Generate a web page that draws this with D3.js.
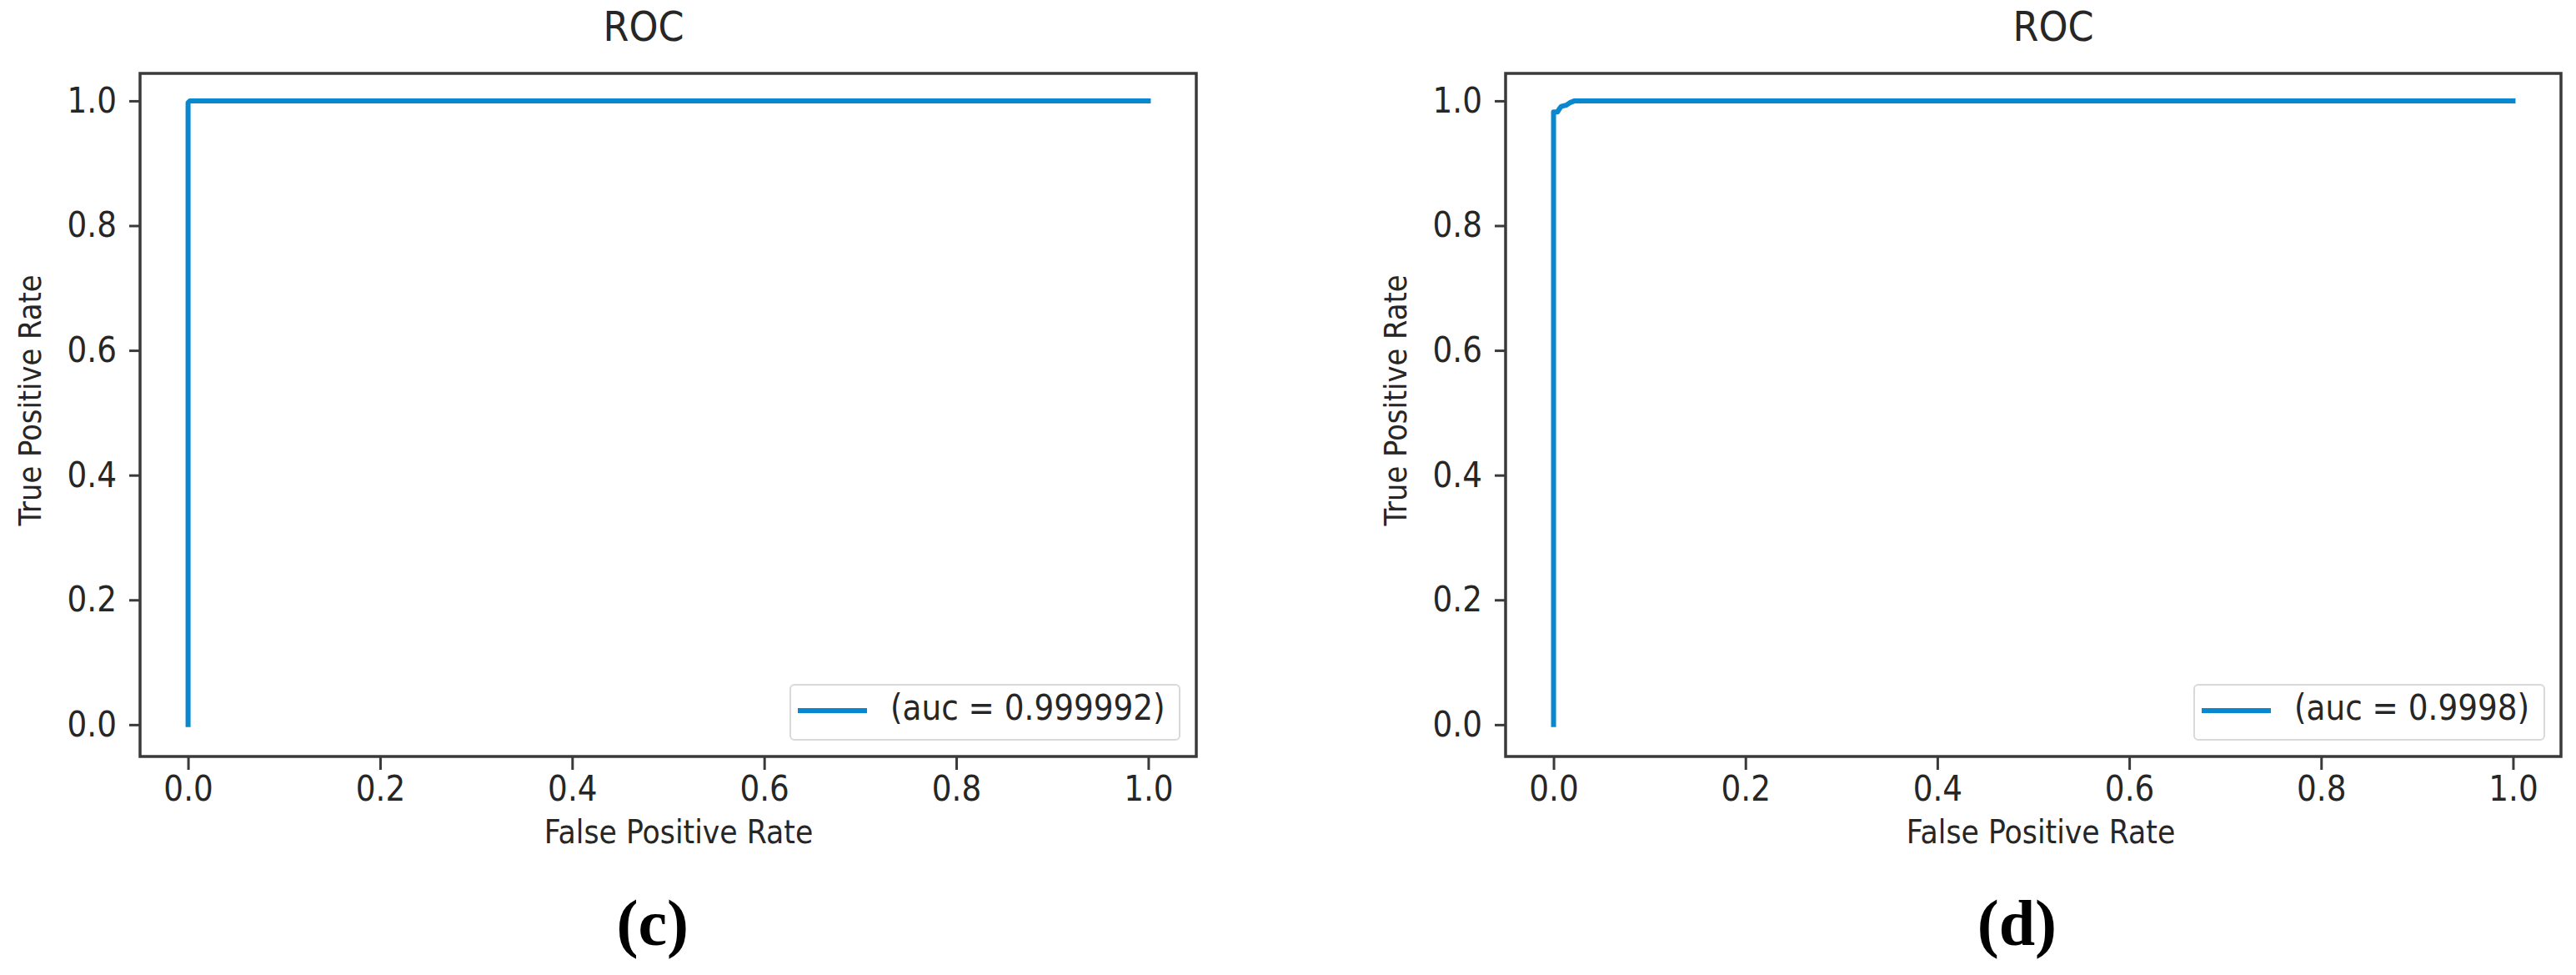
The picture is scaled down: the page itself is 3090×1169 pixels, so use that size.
<!DOCTYPE html>
<html>
<head>
<meta charset="utf-8">
<script src="https://cdn.jsdelivr.net/npm/d3@7"></script>
<style>
  html, body { margin: 0; padding: 0; background: #fff; }
  svg { display: block; }
</style>
</head>
<body>
<svg id="chart" width="3090" height="1169"></svg>
<script>
// ---- data ----
const panelLabels = ["(c)", "(d)"];
const titles = ["ROC", "ROC"];
const xLabel = "False Positive Rate";
const yLabel = "True Positive Rate";
const tickValues = [0.0, 0.2, 0.4, 0.6, 0.8, 1.0];
const legendLabels = ["(auc = 0.999992)", "(auc = 0.9998)"];
const fprC = [0, 0, 0.002, 1.0];
const tprC = [0, 0.997, 1.0, 1.0];
const fprD = [0, 0, 0.004, 0.006, 0.008, 0.013, 0.017, 0.022, 1.0];
const tprD = [0, 0.982, 0.982, 0.987, 0.991, 0.993, 0.997, 1.0, 1.0];

// ---- layout ----
const svg = d3.select("#chart");
const SX = 0.89;             // horizontal squeeze of the original figure text
const FONT = "'DejaVu Sans', sans-serif";
const lineColor = "#0a88cf";
const axisColor = "#3a3a3a";
const textColor = "#262626";

const panels = [
  { left: 168, right: 1435, fpr: fprC, tpr: tprC, legend: legendLabels[0], label: panelLabels[0], title: titles[0],
    labelRight: 826, titleX: 772, xLabelX: 814 },
  { left: 1806, right: 3072, fpr: fprD, tpr: tprD, legend: legendLabels[1], label: panelLabels[1], title: titles[1],
    labelRight: 2467, titleX: 2463, xLabelX: 2448 }
];
const axTop = 88, axBottom = 907;

function squeeze(sel) {
  sel.each(function () {
    const t = d3.select(this);
    const x = +t.attr("x") || 0, y = +t.attr("y") || 0;
    t.attr("x", 0).attr("y", 0).attr("transform", `translate(${x},${y}) scale(${SX},1)`);
  });
}

panels.forEach(p => {
  const x = d3.scaleLinear().domain([-0.05, 1.05]).range([p.left, p.right]);
  const y = d3.scaleLinear().domain([-0.051, 1.044]).range([axBottom, axTop]);
  const g = svg.append("g");

  // curve
  const pts = p.fpr.map((f, i) => [f, p.tpr[i]]);
  g.append("path")
    .datum(pts)
    .attr("d", d3.line().x(d => x(d[0])).y(d => y(d[1])))
    .attr("fill", "none")
    .attr("stroke", lineColor)
    .attr("stroke-width", 6)
    .attr("stroke-linejoin", "round")
    .attr("stroke-linecap", "square");

  // axes
  const xa = g.append("g").attr("transform", `translate(0,${axBottom})`)
    .call(d3.axisBottom(x).tickValues(tickValues).tickFormat(d3.format(".1f")).tickSizeOuter(0).tickSize(16).tickPadding(7));
  const ya = g.append("g").attr("transform", `translate(${p.left},0)`)
    .call(d3.axisLeft(y).tickValues(tickValues).tickFormat(d3.format(".1f")).tickSizeOuter(0).tickSize(13).tickPadding(15));
  [xa, ya].forEach(a => {
    a.select(".domain").remove();
    a.selectAll(".tick line").attr("stroke", axisColor).attr("stroke-width", 3);
    a.selectAll(".tick text").attr("fill", textColor).style("font-family", FONT).style("font-size", "42px");
    squeeze(a.selectAll(".tick text"));
  });

  // spines
  g.append("rect")
    .attr("x", p.left).attr("y", axTop)
    .attr("width", p.right - p.left).attr("height", axBottom - axTop)
    .attr("fill", "none").attr("stroke", axisColor).attr("stroke-width", 3.5);

  // title
  g.append("text").text(p.title)
    .attr("text-anchor", "middle").attr("fill", textColor)
    .style("font-family", FONT).style("font-size", "50px")
    .attr("transform", `translate(${p.titleX},49) scale(${SX},1)`);
  // x label
  g.append("text").text(xLabel)
    .attr("text-anchor", "middle").attr("fill", textColor)
    .style("font-family", FONT).style("font-size", "39px")
    .attr("transform", `translate(${p.xLabelX},1011) scale(${SX},1)`);
  // y label
  g.append("text").text(yLabel)
    .attr("text-anchor", "middle").attr("fill", textColor)
    .style("font-family", FONT).style("font-size", "38px")
    .attr("transform", `translate(${p.left - 119},480) rotate(-90) scale(${SX},1)`);

  // legend
  const lw = p.legend.length > 15 ? 467 : 420;
  const lx = p.right - 20 - lw, ly = axBottom - 20 - 66;
  g.append("rect")
    .attr("x", lx).attr("y", ly).attr("width", lw).attr("height", 66)
    .attr("rx", 5).attr("fill", "#fff").attr("stroke", "#d9d9d9").attr("stroke-width", 2);
  g.append("line")
    .attr("x1", lx + 9).attr("x2", lx + 92).attr("y1", ly + 31).attr("y2", ly + 31)
    .attr("stroke", lineColor).attr("stroke-width", 6);
  g.append("text").text(p.legend)
    .attr("fill", textColor)
    .style("font-family", FONT).style("font-size", "42px")
    .attr("transform", `translate(${lx + 120},${ly + 42}) scale(${SX},1)`);

  // panel label
  g.append("text").text(p.label)
    .attr("x", p.labelRight).attr("y", 1133)
    .attr("text-anchor", "end").attr("fill", "#000")
    .style("font-family", "'Liberation Serif', 'Times New Roman', serif")
    .style("font-weight", "bold").style("font-size", "78px");
});
</script>
</body>
</html>
